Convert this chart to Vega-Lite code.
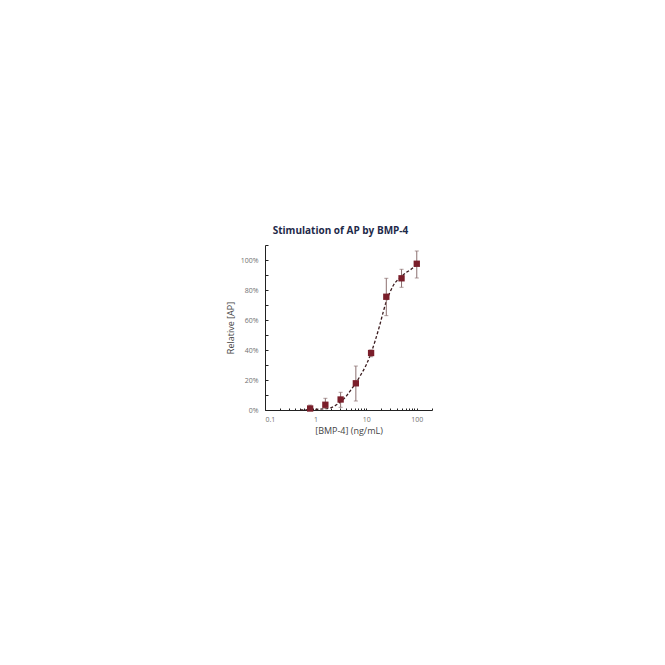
{
  "$schema": "https://vega.github.io/schema/vega-lite/v6.json",
  "autosize": {"type": "none"},
  "padding": {"left": 265, "top": 245, "right": 233, "bottom": 255},
  "width": 167,
  "height": 165,
  "background": "white",
  "title": {
    "text": "Stimulation of AP by BMP-4",
    "font": "Open Sans",
    "fontSize": 10,
    "fontWeight": "bold",
    "color": "#1e2a4a",
    "anchor": "middle",
    "dx": -8,
    "offset": 9
  },
  "datasets": {
    "points": [
      {"conc": 0.78, "ap": 0.01, "lo": 0.0, "hi": 0.033},
      {"conc": 1.56, "ap": 0.035, "lo": 0.011, "hi": 0.078},
      {"conc": 3.125, "ap": 0.07, "lo": 0.018, "hi": 0.118},
      {"conc": 6.25, "ap": 0.178, "lo": 0.06, "hi": 0.293},
      {"conc": 12.5, "ap": 0.38, "lo": 0.355, "hi": 0.40},
      {"conc": 25, "ap": 0.755, "lo": 0.629, "hi": 0.878},
      {"conc": 50, "ap": 0.878, "lo": 0.818, "hi": 0.938},
      {"conc": 100, "ap": 0.975, "lo": 0.88, "hi": 1.06}
    ],
    "fit": [
      {"conc": 0.5, "ap": 0.001},
      {"conc": 0.8, "ap": 0.002},
      {"conc": 1, "ap": 0.004},
      {"conc": 1.5, "ap": 0.008},
      {"conc": 2, "ap": 0.015},
      {"conc": 3, "ap": 0.05},
      {"conc": 4, "ap": 0.09},
      {"conc": 5, "ap": 0.135},
      {"conc": 6.25, "ap": 0.18},
      {"conc": 8, "ap": 0.24},
      {"conc": 10, "ap": 0.30},
      {"conc": 12.5, "ap": 0.38},
      {"conc": 15, "ap": 0.46},
      {"conc": 18, "ap": 0.55},
      {"conc": 22, "ap": 0.66},
      {"conc": 25, "ap": 0.725},
      {"conc": 30, "ap": 0.79},
      {"conc": 35, "ap": 0.835},
      {"conc": 40, "ap": 0.86},
      {"conc": 50, "ap": 0.89},
      {"conc": 60, "ap": 0.913},
      {"conc": 75, "ap": 0.935},
      {"conc": 100, "ap": 0.97}
    ]
  },
  "encoding": {
    "x": {
      "field": "conc",
      "type": "quantitative",
      "scale": {"type": "log", "domain": [0.1, 200], "nice": false},
      "axis": {
        "title": "[BMP-4] (ng/mL)",
        "values": [0.1, 0.2, 0.3, 0.4, 0.5, 0.6, 0.7, 0.8, 0.9, 1, 2, 3, 4, 5, 6, 7, 8, 9, 10, 20, 30, 40, 50, 60, 70, 80, 90, 100, 200],
        "labelExpr": "indexof([0.1, 1, 10, 100], datum.value) >= 0 ? datum.label : ''",
        "format": "~g",
        "tickSize": -2,
        "labelPadding": 7,
        "titlePadding": 4
      }
    },
    "y": {
      "field": "ap",
      "type": "quantitative",
      "scale": {"domain": [0, 1.1], "nice": false},
      "axis": {
        "title": "Relative [AP]",
        "values": [0, 0.1, 0.2, 0.3, 0.4, 0.5, 0.6, 0.7, 0.8, 0.9, 1.0, 1.1],
        "format": ".0%",
        "labelExpr": "round(datum.value * 10) % 2 == 0 && datum.value < 1.05 ? datum.label : ''",
        "tickSize": -3,
        "labelPadding": 10,
        "titlePadding": 5
      }
    }
  },
  "layer": [
    {
      "data": {"name": "fit"},
      "mark": {"type": "line", "interpolate": "monotone", "color": "#3b1c1f", "strokeWidth": 1.3, "strokeDash": [3, 2]}
    },
    {
      "data": {"name": "points"},
      "mark": {"type": "rule", "color": "#8c7070", "strokeWidth": 1},
      "encoding": {
        "y": {"field": "lo", "type": "quantitative"},
        "y2": {"field": "hi"}
      }
    },
    {
      "data": {"name": "points"},
      "mark": {"type": "tick", "orient": "horizontal", "color": "#8c7070", "thickness": 1, "size": 4},
      "encoding": {"y": {"field": "hi", "type": "quantitative"}}
    },
    {
      "data": {"name": "points"},
      "mark": {"type": "tick", "orient": "horizontal", "color": "#8c7070", "thickness": 1, "size": 4},
      "encoding": {"y": {"field": "lo", "type": "quantitative"}}
    },
    {
      "data": {"name": "points"},
      "mark": {"type": "point", "shape": "square", "filled": true, "size": 40, "color": "#7a1e2a", "opacity": 1}
    }
  ],
  "config": {
    "view": {"stroke": null},
    "axis": {
      "grid": false,
      "domainColor": "#222222",
      "tickColor": "#222222",
      "labelFont": "Open Sans",
      "labelFontSize": 7,
      "labelColor": "#707070",
      "titleFont": "Open Sans",
      "titleFontSize": 9,
      "titleFontWeight": "normal",
      "titleColor": "#444444"
    }
  }
}
